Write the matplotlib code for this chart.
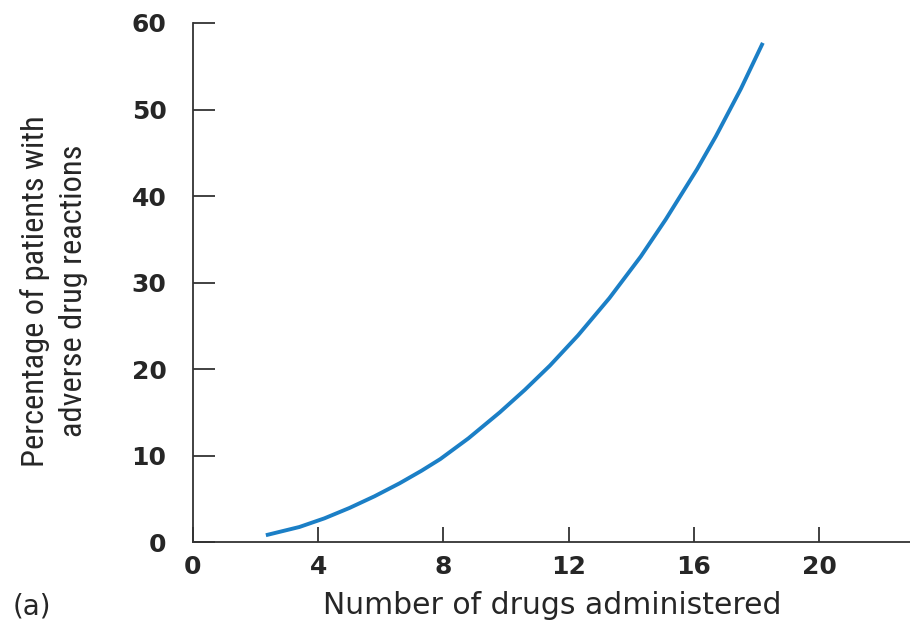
import matplotlib
matplotlib.use('Agg')
import matplotlib.pyplot as plt

# values
drugs = [2.33, 3.4, 4.2, 5.0, 5.8, 6.6, 7.3, 7.9, 8.8, 9.8, 10.6, 11.4,
         12.3, 13.3, 14.3, 15.1, 16.1, 16.7, 17.5, 18.2]
percent = [0.8, 1.75, 2.75, 3.95, 5.3, 6.8, 8.25, 9.6, 12.0, 15.0, 17.6, 20.4,
           23.9, 28.2, 33.0, 37.3, 43.1, 46.9, 52.4, 57.7]

x_ticks = [0, 4, 8, 12, 16, 20]
y_ticks = [0, 10, 20, 30, 40, 50, 60]

ink = '#262626'

fig = plt.figure(figsize=(9.1, 6.21), dpi=100)
ax = fig.add_axes([0.212, 0.127, 0.788, 0.836])

ax.plot(drugs, percent, color='#1b7fc6', linewidth=2.8, solid_capstyle='butt',
        solid_joinstyle='round')

ax.set_xlim(0, 22.9)
ax.set_ylim(0, 60)
ax.set_xticks(x_ticks)
ax.set_yticks(y_ticks)

for side in ['top', 'right']:
    ax.spines[side].set_visible(False)
for side in ['left', 'bottom']:
    ax.spines[side].set_color('#333333')
    ax.spines[side].set_linewidth(1.3)

ax.tick_params(axis='y', direction='in', length=16, width=1.3, color='#333333',
               pad=19, labelsize=18, labelcolor=ink)
ax.tick_params(axis='x', direction='in', length=11, width=1.3, color='#333333',
               pad=9, labelsize=18, labelcolor=ink)
for lab in ax.get_xticklabels() + ax.get_yticklabels():
    lab.set_fontweight('bold')

fig.text(552 / 910, 1 - 606 / 621, 'Number of drugs administered',
         fontsize=21.5, color=ink, ha='center', va='center')

ylab = fig.text(54 / 910, 1 - 291 / 621,
                'Percentage of patients with\nadverse drug reactions',
                fontsize=20, color=ink, rotation=90, ha='center', va='center',
                multialignment='center', linespacing=1.4,
                family=['Liberation Sans Narrow', 'Roboto Condensed',
                        'DejaVu Sans'],
                fontstretch='condensed')
# fit the longer line to the length seen in the reference (about 348 px)
fig.canvas.draw()
h = ylab.get_window_extent().height
ylab.set_fontsize(20 * 350 / h)

fig.text(32 / 910, 1 - 606 / 621, '(a)', fontsize=20, color=ink,
         ha='center', va='center')

fig.savefig('out.png', dpi=100)
